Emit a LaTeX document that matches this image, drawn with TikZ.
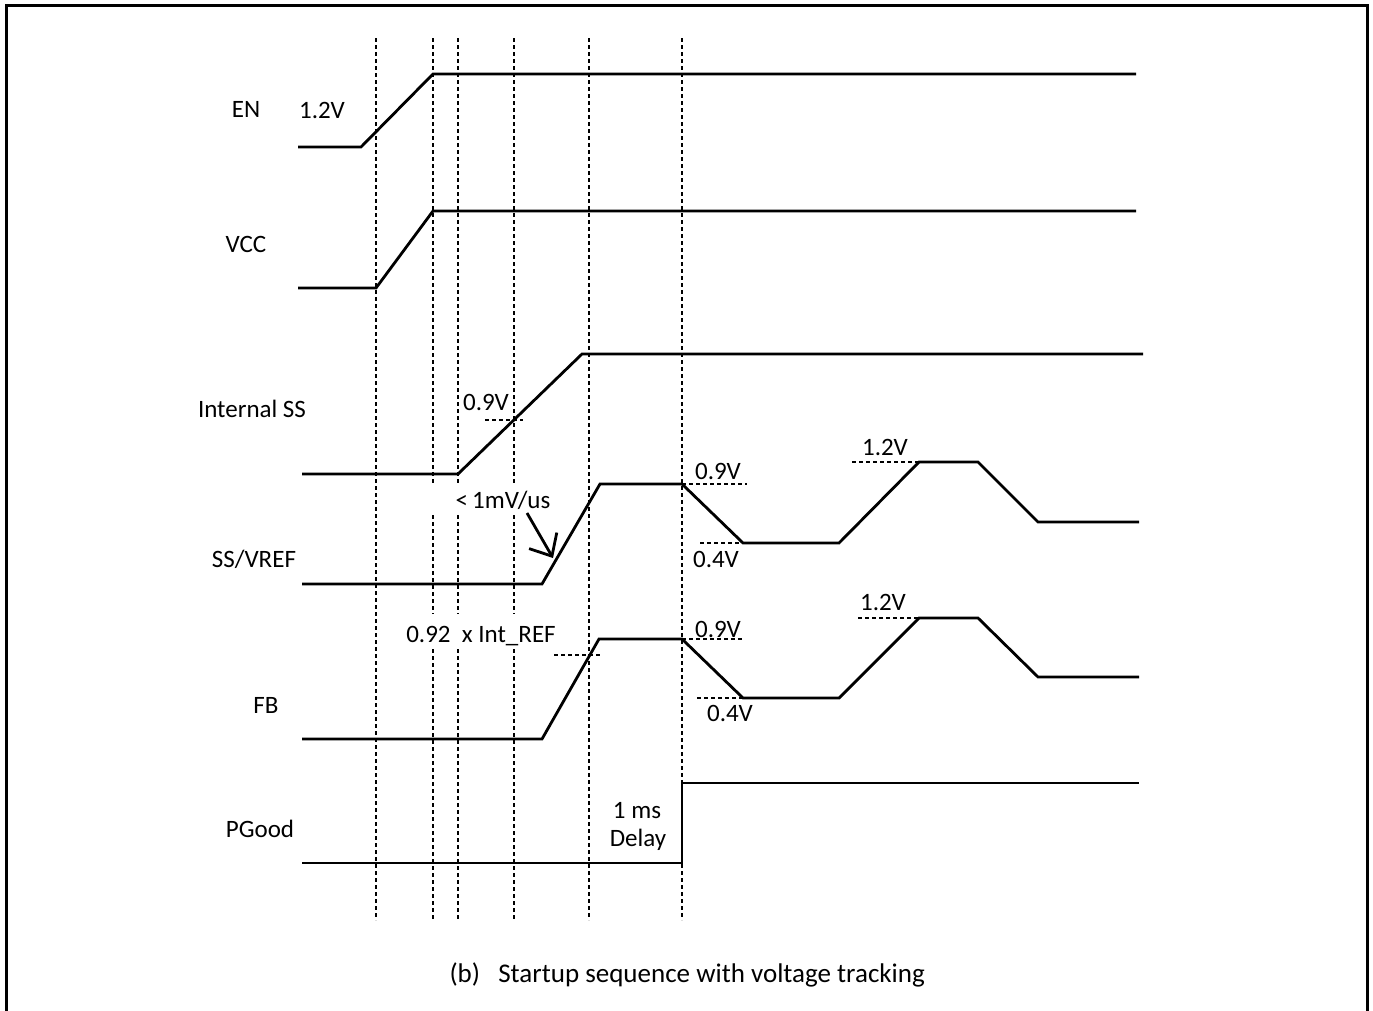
\documentclass[tikz,border=0pt]{standalone}
\usepackage{fontspec}
\setmainfont{Carlito}
\usetikzlibrary{arrows.meta}
\begin{document}
\begin{tikzpicture}[x=1pt,y=-1pt,
  sig/.style={line width=2.8pt, line join=miter},
  gridline/.style={line width=2.7pt, dash pattern=on 4pt off 3pt},
  levtick/.style={line width=2.4pt, dash pattern=on 4pt off 3pt},
  lab/.style={font=\fontsize{25}{30}\selectfont, inner sep=0pt, anchor=base},
  captext/.style={font=\fontsize{27}{32}\selectfont, inner sep=0pt, anchor=base east}]
\useasboundingbox (0,0) rectangle (1373,1010);
% frame
\draw[line width=3pt] (6.5,1020) -- (6.5,5) -- (1367,5) -- (1367,1020);
% vertical time markers
\foreach \x in {376,589,682} \draw[gridline] (\x,38) -- (\x,920);
\foreach \x in {433,458,514} {
  \draw[gridline] (\x,38) -- (\x,483);
  \draw[gridline] (\x,515) -- (\x,614);
  \draw[gridline] (\x,649) -- (\x,920);
}
% signals
\draw[sig] (298,147) -- (361,147) -- (433,74) -- (1136,74);
\draw[sig] (298,288) -- (376,288) -- (433,211) -- (1136,211);
\draw[sig] (302,474) -- (458,474) -- (582,354) -- (1143,354);
\draw[sig] (302,584) -- (542,584) -- (600,484) -- (682,484) -- (743,543) -- (839,543) -- (919,462) -- (978,462) -- (1038,522) -- (1139,522);
\draw[sig] (302,739) -- (542,739) -- (599,639) -- (682,639) -- (743,698) -- (839,698) -- (919,618) -- (978,618) -- (1038,677) -- (1139,677);
\draw[sig] (302,863) -- (682,863) -- (682,783) -- (1139,783);
% level ticks
\draw[levtick] (485,420) -- (523,420);
\draw[levtick] (682,484) -- (747,484);
\draw[levtick] (700,543) -- (770,543);
\draw[levtick] (852,462) -- (919,462);
\draw[levtick] (554,655) -- (600,655);
\draw[levtick] (682,639) -- (743,639);
\draw[levtick] (697,698) -- (767,698);
\draw[levtick] (858,618) -- (919,618);
% signal names
\node[lab] (en) at (246,117) {EN};
\node[lab] (vcc) at (246,252) {VCC};
\node[lab] (iss) at (252,417) {Internal SS};
\node[lab] (ssv) at (254,567) {SS/VREF};
\node[lab] (fb) at (266,713) {FB};
\node[lab] (pg) at (260,837) {PGood};
% annotations
\node[lab] (v12en) at (322,118) {1.2V};
\node[lab] (v09i) at (486,410) {0.9V};
\node[lab] (slew) at (503,508) {<\,1mV/us};
\node[lab] (v09s) at (718,479) {0.9V};
\node[lab] (v04s) at (716,567) {0.4V};
\node[lab] (v12s) at (885,455) {1.2V};
\node[lab] (ref) at (481,642) {0.92 \ x Int\_REF};
\node[lab] (v09f) at (718,637) {0.9V};
\node[lab] (v04f) at (730,721) {0.4V};
\node[lab] (v12f) at (883,610) {1.2V};
\node[lab] (d1) at (637,818) {1 ms};
\node[lab] (d2) at (638,846) {Delay};
\coordinate (tail) at (527,513);
\coordinate (tip) at (553,558);
\draw[line width=2.8pt, -{Straight Barb[length=18pt,width=32pt]}] (tail) -- (tip);
% caption
\node[captext] (caption) at (925,982) {(b)\ \ \ Startup sequence with voltage tracking};
\end{tikzpicture}
\end{document}
